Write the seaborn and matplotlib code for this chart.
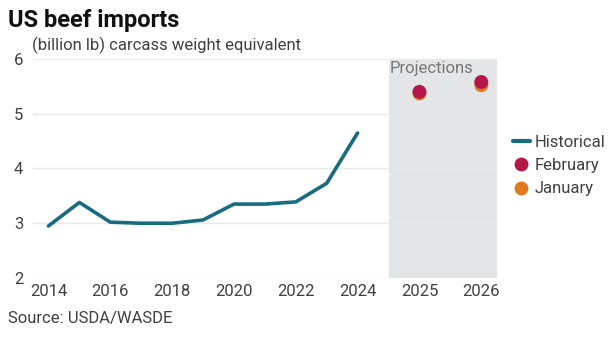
import matplotlib
matplotlib.use("Agg")
import matplotlib.pyplot as plt
import seaborn as sns
import pandas as pd
from matplotlib.lines import Line2D

# Annual US beef imports, billion lb carcass weight equivalent
hist_years = [2014, 2015, 2016, 2017, 2018, 2019, 2020, 2021, 2022, 2023, 2024]
hist_values = [2.95, 3.38, 3.02, 3.00, 3.00, 3.06, 3.35, 3.35, 3.39, 3.73, 4.65]

proj_years = [2025, 2026]
feb_values = [5.40, 5.58]
jan_values = [5.37, 5.52]

tick_labels = ["2014", "2016", "2018", "2020", "2022", "2024", "2025", "2026"]
y_ticks = [2, 3, 4, 5, 6]

# Horizontal slot for each year: projections sit two slots apart after 2024
def slot(year):
    return year - 2014 if year <= 2024 else 10 + 2 * (year - 2024)

hist_df = pd.DataFrame({"x": [slot(y) for y in hist_years], "value": hist_values})
proj_df = pd.DataFrame({
    "x": [slot(y) for y in proj_years] * 2,
    "value": jan_values + feb_values,
    "release": ["January"] * 2 + ["February"] * 2,
})

sns.set_theme(style="white")
plt.rcParams["font.family"] = ["Roboto", "DejaVu Sans"]

LINE = "#176c80"
FEB = "#b5174b"
JAN = "#e07a1f"
TXT = "#404040"

fig = plt.figure(figsize=(6.11, 3.38), dpi=100)
ax = fig.add_axes([0.054, 0.1775, 0.759, 0.648])

ax.axvspan(11, 14.5, color="#e4e5e7", zorder=0, lw=0)
for yv in y_ticks:
    ax.axhline(yv, color="#e9e9e9", lw=1.0, zorder=0.5)

sns.lineplot(data=hist_df, x="x", y="value", ax=ax, color=LINE, lw=2.6, zorder=3)
sns.scatterplot(data=proj_df, x="x", y="value", hue="release",
                palette={"January": JAN, "February": FEB},
                s=100, edgecolor="none", ax=ax, zorder=4, legend=False)

ax.set_xlim(-0.5, 14.5)
ax.set_ylim(2, 6)
tick_pos = [slot(int(t)) for t in tick_labels]
ax.set_xticks(tick_pos)
ax.set_xticklabels(tick_labels)
ax.set_yticks(y_ticks)
ax.tick_params(axis="both", length=0, labelsize=12, colors=TXT)
ax.tick_params(axis="x", pad=4)
ax.tick_params(axis="y", pad=7)
ax.set_xlabel("")
ax.set_ylabel("")
sns.despine(ax=ax, left=True, bottom=True)

ax.text(11.05, 5.97, "Projections", fontsize=12, color="#777777", va="top", ha="left")

handles = [
    Line2D([0], [0], color=LINE, lw=3),
    Line2D([0], [0], marker="o", color="none", markerfacecolor=FEB, markeredgecolor="none", markersize=10),
    Line2D([0], [0], marker="o", color="none", markerfacecolor=JAN, markeredgecolor="none", markersize=10),
]
leg = fig.legend(handles, ["Historical", "February", "January"], loc="center left",
                 bbox_to_anchor=(0.815, 0.51), frameon=False, fontsize=12,
                 handlelength=1.0, handletextpad=0.3, labelspacing=0.5)
for t in leg.get_texts():
    t.set_color(TXT)

fig.text(0.013, 0.94, "US beef imports", fontsize=17, fontweight="bold", color="#111111", va="center")
fig.text(0.052, 0.865, "(billion lb) carcass weight equivalent", fontsize=12, color=TXT, va="center")
fig.text(0.013, 0.058, "Source: USDA/WASDE", fontsize=12, color=TXT, va="center")

fig.savefig("out.png", dpi=100)
